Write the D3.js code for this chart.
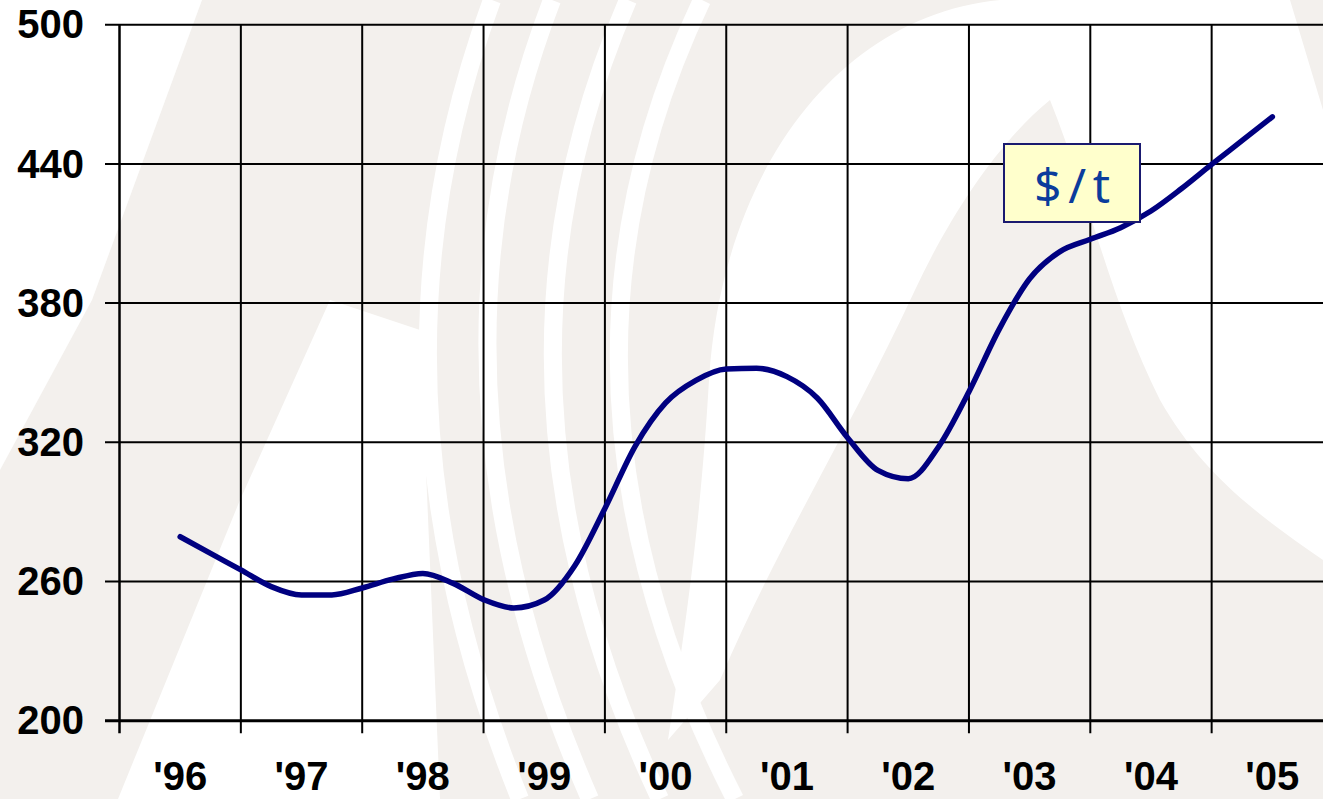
<!DOCTYPE html>
<html>
<head>
<meta charset="utf-8">
<script src="https://cdn.jsdelivr.net/npm/d3@7"></script>
<style>
  body { margin: 0; background: #fff; }
  svg { display: block; }
  .lbl { font-family: "Liberation Sans", Arial, sans-serif; font-weight: bold; font-size: 40px; fill: #000; }
</style>
</head>
<body>
<div class="chart"></div>
<script>
// chart data
var years = ["'96", "'97", "'98", "'99", "'00", "'01", "'02", "'03", "'04", "'05"];
var yTicks = [200, 260, 320, 380, 440, 500];
var startYear = 1996;
// quarterly price, $/t
var prices = [279.3, 272.1, 265.0, 257.8, 254.2, 254.2, 257.2, 261.0, 263.5,
  259.2, 252.2, 248.6, 252.0, 266.7, 291.5, 318.4, 337.0, 346.7, 351.6,
  351.9, 348.3, 339.1, 322.0, 307.9, 304.3, 318.1, 341.8, 368.8, 390.5,
  402.2, 407.5, 412.5, 419.7, 429.3, 439.8, 450.0, 460.3];
var unitLabel = "$/t";

var width = 1323,
  height = 799,
  plotLeft = 119.5,
  plotTop = 24.7,
  plotBottom = 720.7,
  bandW = 121.35;

var svg = d3.select(".chart").append("svg")
  .attr("width", width)
  .attr("height", height);

// watermark behind the plot
var bg = svg.append("g").attr("class", "watermark");
bg.append("rect").attr("width", width).attr("height", height).attr("fill", "#f3f0ed");
var white = "#ffffff";
bg.append("path").attr("fill", white)
  .attr("d", "M0,0 L202,0 L92,300 L0,470 Z");
bg.append("path").attr("fill", white)
  .attr("d", "M118,799 L240,500 L330,300 L420,330 L440,799 Z");
bg.append("path").attr("fill", white)
  .attr("d", "M1000,0 C840,15 722,170 709,380 C702,500 690,600 668,740 L720,680 C780,540 850,430 915,290 C950,215 1000,140 1050,100 C1090,200 1110,300 1160,400 C1200,470 1250,510 1323,560 L1323,110 L1290,0 Z");
var arcs = [[492, 441, 520], [552, 501, 590], [628, 566, 660], [702, 632, 735]];
arcs.forEach(function(a) {
  var c = 2 * a[1] - 0.5 * (a[0] + a[2]) - 25;
  bg.append("path")
    .attr("fill", "none")
    .attr("stroke", white)
    .attr("stroke-width", 18)
    .attr("d", "M" + a[0] + ",0 Q" + c + ",380 " + a[2] + ",799");
});

var x = d3.scaleBand()
  .domain(years)
  .range([plotLeft, plotLeft + bandW * years.length]);

var xt = d3.scaleLinear()
  .domain([startYear, startYear + years.length - 1])
  .range([x(years[0]) + bandW / 2, x(years[years.length - 1]) + bandW / 2]);

var y = d3.scaleLinear()
  .domain([200, 500])
  .range([plotBottom, plotTop]);

// grid
var grid = svg.append("g").attr("class", "grid");
grid.selectAll(".hline")
  .data(yTicks)
  .enter().append("line")
  .attr("x1", plotLeft - 14.5)
  .attr("x2", width + 20)
  .attr("y1", function(d) { return y(d); })
  .attr("y2", function(d) { return y(d); })
  .attr("stroke", "#000")
  .attr("stroke-width", function(d) { return d === 200 ? 3 : 2; });

grid.selectAll(".vline")
  .data(years)
  .enter().append("line")
  .attr("x1", function(d) { return x(d); })
  .attr("x2", function(d) { return x(d); })
  .attr("y1", plotTop)
  .attr("y2", plotBottom + 12.5)
  .attr("stroke", "#000")
  .attr("stroke-width", function(d, i) { return i === 0 ? 2.5 : 2; });

// axis labels
svg.selectAll(".ylab")
  .data(yTicks)
  .enter().append("text")
  .attr("class", "lbl")
  .attr("x", 84)
  .attr("y", function(d) { return y(d); })
  .attr("dy", "0.34em")
  .attr("text-anchor", "end")
  .text(function(d) { return d; });

svg.selectAll(".xlab")
  .data(years)
  .enter().append("text")
  .attr("class", "lbl")
  .attr("x", function(d) { return x(d) + bandW / 2; })
  .attr("y", 790)
  .attr("text-anchor", "middle")
  .text(function(d) { return d; });

// price line
var line = d3.line()
  .x(function(d, i) { return xt(startYear + i / 4); })
  .y(function(d) { return y(d); })
  .curve(d3.curveMonotoneX);

svg.append("path")
  .datum(prices)
  .attr("fill", "none")
  .attr("stroke", "#000080")
  .attr("stroke-width", 5.5)
  .attr("stroke-linejoin", "round")
  .attr("stroke-linecap", "round")
  .attr("d", line);

// unit box
var box = svg.append("g").attr("transform", "translate(1004,144)");
box.append("rect")
  .attr("width", 136)
  .attr("height", 78)
  .attr("fill", "#ffffcc")
  .attr("stroke", "#1a1a70")
  .attr("stroke-width", 2);
box.append("text")
  .attr("x", 68)
  .attr("y", 59)
  .attr("text-anchor", "middle")
  .attr("font-family", "'Comic Sans MS', 'Noto Sans', sans-serif")
  .attr("font-size", 48)
  .attr("fill", "#0b3c9c")
  .attr("textLength", 76)
  .attr("lengthAdjust", "spacing")
  .text(unitLabel);
</script>
</body>
</html>
